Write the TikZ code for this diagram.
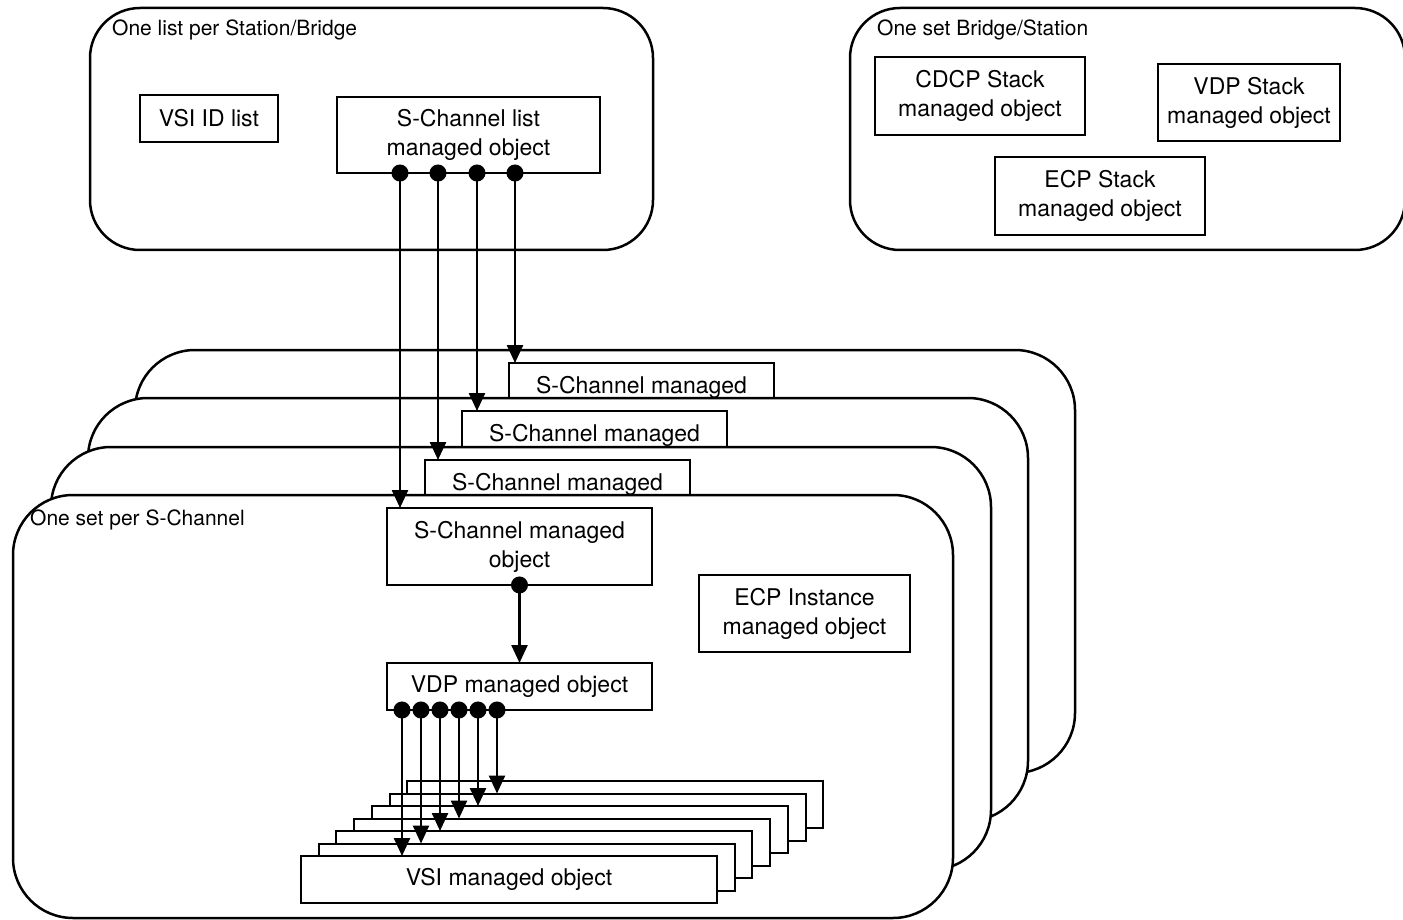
\documentclass[tikz,border=0pt]{standalone}
\usepackage{fontspec}
\setmainfont{TeX Gyre Heros}
\usetikzlibrary{arrows.meta,calc}

\begin{document}
\begin{tikzpicture}[x=1pt,y=-1pt,
    groupbox/.style={draw, line width=2.5pt, rounded corners=50pt, fill=white, anchor=north west, inner sep=0pt, outer sep=0pt},
    setbox/.style={groupbox, rounded corners=60pt, minimum width=940pt, minimum height=423pt},
    grouptag/.style={anchor=west, inner sep=0pt, font=\fontsize{21}{25}\selectfont},
    mobox/.style={draw, line width=2pt, fill=white, align=center, anchor=north west, inner sep=0pt, outer sep=0pt, font=\fontsize{23}{29}\selectfont},
    scmo/.style={mobox, minimum width=265pt, minimum height=77pt},
    vsibox/.style={mobox, minimum width=416pt, minimum height=47pt},
    moarrow/.style={{Circle[length=17pt]}-{Triangle[length=18pt,width=16pt]}, line width=2.5pt, shorten <=-8.5pt}]

    \useasboundingbox (0,0) rectangle (1403,920);

    % Station/Bridge list
    \node[groupbox, minimum width=563pt, minimum height=242pt] (stlist) at (90,8) {};
    \node[grouptag] at (112,30) {One list per Station/Bridge};
    \node[mobox, minimum width=138pt, minimum height=47pt] (vsiid) at (140,95) {VSI ID list};
    \node[mobox, minimum width=263pt, minimum height=76pt] (sclist) at (337,97) {S-Channel list\\managed object};

    % Stacks
    \node[groupbox, minimum width=555pt, minimum height=242pt] (stacks) at (850,8) {};
    \node[grouptag] at (877,30) {One set Bridge/Station};
    \node[mobox, minimum width=210pt, minimum height=78pt] (cdcp) at (875,57) {CDCP Stack\\managed object};
    \node[mobox, minimum width=182pt, minimum height=77pt] (vdpstack) at (1158,64) {VDP Stack\\managed object};
    \node[mobox, minimum width=210pt, minimum height=78pt] (ecpstack) at (995,157) {ECP Stack\\managed object};

    % S-Channel sets, back to front
    \foreach \n/\x/\y in {4/135/350, 3/88/398, 2/51/447} {
        \node[setbox] (set\n) at (\x,\y) {};
        \node[scmo] (scmo\n) at ($(set\n.north west)+(374,13)$) {S-Channel managed\\\phantom{object}};
    }
    \node[setbox] (set1) at (13,495) {};
    \node[scmo] (scmo1) at ($(set1.north west)+(374,13)$) {S-Channel managed\\object};
    \node[grouptag] at (30,520) {One set per S-Channel};
    \node[mobox, minimum width=211pt, minimum height=77pt] (ecpinst) at (699,575) {ECP Instance\\managed object};
    \node[mobox, minimum width=265pt, minimum height=47pt] (vdpmo) at (387,663) {VDP managed object};

    % VSI objects, back to front
    \foreach \k in {6,...,1}
        \node[vsibox] (vsi\k) at (301+17.7*\k,856-12.5*\k) {};
    \node[vsibox] (vsi0) at (301,856) {VSI managed object};

    % Connectors
    \foreach \dx/\k in {63/1, 101/2, 140/3, 178/4}
        \draw[moarrow] ($(sclist.south west)+(\dx,0)$) coordinate (p) -- (p |- scmo\k.north);
    \draw[moarrow] (scmo1.south) -- (vdpmo.north);
    \foreach \k in {0,...,5}
        \draw[moarrow] ($(vdpmo.south west)+(15+19*\k,0)$) coordinate (p) -- (p |- vsi\k.north);

\end{tikzpicture}
\end{document}
